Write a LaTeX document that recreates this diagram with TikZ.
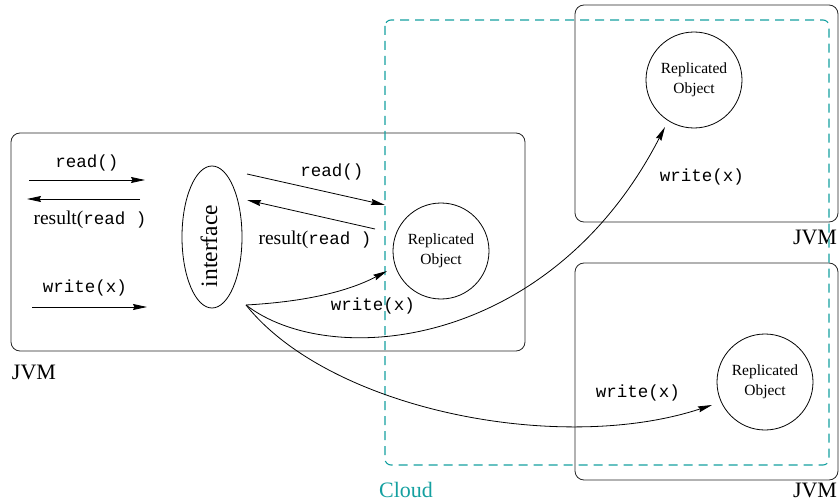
\documentclass[tikz,border=0pt]{standalone}
\usepackage{fontspec}
\setmainfont{Liberation Serif}
\setmonofont{Liberation Mono}
\usetikzlibrary{arrows.meta,shapes.geometric}
\definecolor{cloudc}{RGB}{20,160,160}
\begin{document}
\begin{tikzpicture}[x=1pt,y=-1pt,
  jvmbox/.style={draw=black!85,line width=0.8pt,rounded corners=9pt},
  repobj/.style={circle,draw,line width=0.8pt,minimum size=96pt,inner sep=0pt,align=center,font=\fontsize{15.5}{20}\selectfont},
  msg/.style={font=\fontsize{17.5}{20}\selectfont\ttfamily,inner sep=0pt},
  reslabel/.style={font=\fontsize{19.5}{22}\selectfont,inner sep=0pt},
  jvmlabel/.style={font=\fontsize{22}{24}\selectfont,inner sep=0pt},
  arr/.style={line width=0.8pt,-{Stealth[length=14pt,width=6pt,inset=1.5pt]}},
]
\useasboundingbox (0,0) rectangle (839,503);

% JVM boxes
\draw[jvmbox] (11,133) rectangle (525,351);
\draw[jvmbox] (575,5) rectangle (838,222);
\draw[jvmbox] (575,263) rectangle (838,480);
\node[jvmlabel] (jvmA) at (34,372) {JVM};
\node[jvmlabel] (jvmB) at (815,237) {JVM};
\node[jvmlabel] (jvmC) at (815,490) {JVM};

% Cloud
\draw[cloudc,line width=1.1pt,dash pattern=on 9pt off 6pt,rounded corners=6pt] (385,20) rectangle (829,465);
\node[cloudc,font=\fontsize{22}{24}\selectfont,inner sep=0pt] (cloud) at (406,490) {Cloud};

% interface
\node[ellipse,draw,line width=0.8pt,minimum width=60pt,minimum height=142pt,inner sep=0pt] (iface) at (212,237) {};
\node[rotate=90,font=\fontsize{23.5}{26}\selectfont,inner sep=0pt] (ifacetext) at (209,246) {interface};

% replicated objects
\node[repobj] (ro1) at (441,251) {Replicated\\Object};
\node[repobj] (ro2) at (694,80) {Replicated\\Object};
\node[repobj] (ro3) at (765,382) {Replicated\\Object};

% left arrows
\coordinate (l1a) at (29,180); \coordinate (l1b) at (145,180);
\coordinate (l2a) at (140,199); \coordinate (l2b) at (27,199);
\coordinate (l3a) at (32,307); \coordinate (l3b) at (147,307);
\draw[arr] (l1a) -- (l1b);
\draw[arr] (l2a) -- (l2b);
\draw[arr] (l3a) -- (l3b);
\node[msg] (lread) at (87,163) {read()};
\node[reslabel] (lres) at (90,220) {result(\fontsize{17.5}{20}\selectfont\ttfamily read\ )};
\node[msg] (lwrite) at (85,288) {write(x)};

% middle arrows
\coordinate (m1a) at (247,174); \coordinate (m1b) at (385,205);
\coordinate (m2a) at (375,229); \coordinate (m2b) at (247,200);
\draw[arr] (m1a) -- (m1b);
\draw[arr] (m2a) -- (m2b);
\node[msg] (mread) at (332,172) {read()};
\node[reslabel] (mres) at (315,240) {result(\fontsize{17.5}{20}\selectfont\ttfamily read\ )};

% write curves
\coordinate (src) at (246,305);
\coordinate (e1) at (387,271);
\coordinate (e2) at (665,127);
\coordinate (e3) at (712,405);
\draw[arr] (src) .. controls (300,302) and (345,293) .. (e1);
\draw[arr] (src) .. controls (330,370) and (550,350) .. (e2);
\draw[arr] (src) .. controls (330,410) and (560,455) .. (e3);
\node[msg] (mwrite) at (373,306) {write(x)};
\node[msg] (w2) at (702,177) {write(x)};
\node[msg] (w3) at (638,393) {write(x)};
\end{tikzpicture}
\end{document}
